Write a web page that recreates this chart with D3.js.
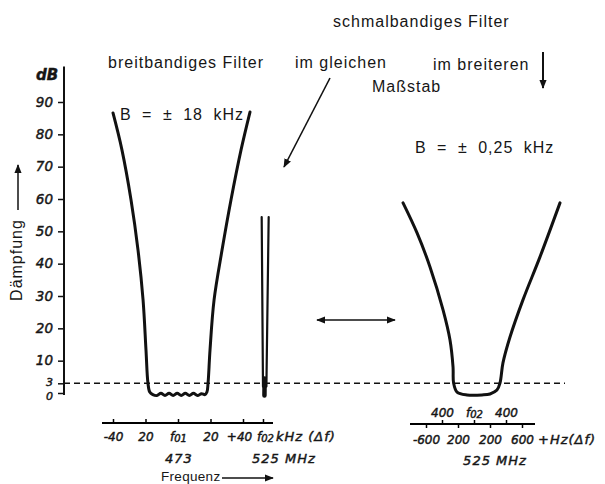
<!DOCTYPE html>
<html>
<head>
<meta charset="utf-8">
<script src="https://cdn.jsdelivr.net/npm/d3@7"></script>
<style>
  html, body { margin: 0; padding: 0; background: #fff; }
  svg { display: block; }
  .label { font-family: "Liberation Sans", Arial, sans-serif; font-size: 16px; letter-spacing: 1px; fill: #161616; }
  .num { font-family: "DejaVu Sans", sans-serif; font-style: italic; font-size: 13.5px; fill: #161616; stroke: #161616; stroke-width: 0.45px; }
  .xnum { font-size: 12px; }
  .unit { font-size: 13px; letter-spacing: 1px; }
</style>
</head>
<body>
<svg id="svg"></svg>
<script>
const width = 605;
const height = 484;

// Dämpfung axis (dB)
const dbTicks = [0, 3, 10, 20, 30, 40, 50, 60, 70, 80, 90];

// wide band filter around f01 = 473 MHz, offset in kHz
const wideDf = [-40, -34.5, -28.9, -24.6, -21.5, -19.7, -18.5, -17.4, -15.5,
    -13, -10.5, -8, -5.5, -3, -0.5, 2, 4.5, 7, 9.5, 12, 14.5, 16.6,
    17.8, 18.5, 19.7, 22.2, 27.1, 32.6, 38.8, 44.3];
const wideDb = [86.6, 75.2, 59.7, 44.2, 28.8, 13.3, 3.1, 0.3, -0.5,
    -0.8, -0.1, -0.8, -0.1, -0.8, -0.1, -0.8, -0.1, -0.8, -0.1, -0.8, -0.2, -0.5,
    0.3, 3.1, 13.3, 28.8, 44.2, 59.7, 75.2, 86.9];

// narrow band filter at f02 = 525 MHz, same scale (two flanks + joint)
const narrowLeftDf = [51.5, 52.3];
const narrowRightDf = [55.8, 54.4];
const narrowDb = [54.4, 2];
const narrowJointDf = [53.3, 53.2];
const narrowJointDb = [4.5, -0.8];

// narrow band filter in the wider scale, offset in Hz
const zoomDf = [-887, -712, -550, -387, -300, -262, -255, -212, -87, 100, 200, 287, 325, 362, 450, 612, 825, 1075];
const zoomDb = [58.8, 49.5, 39, 25.7, 16.4, 8, 3.1, 0.3, -0.6, -0.6, -0.3, 0.9, 3.1, 9.3, 17.3, 28.8, 42.1, 58.8];

// x axis ticks
const kHzTicks = [-40, -20, 0, 20, 40, 52.3];
const kHzLabels = ["-40", "20", "f01", "20", "+40", "f02"];
const hzUpperTicks = [-400, 0, 400];
const hzUpperLabels = ["400", "f02", "400"];
const hzLowerTicks = [-600, -200, 200, 600];
const hzLowerLabels = ["-600", "200", "200", "600"];

let svg = d3.select("#svg").attr("width", width).attr("height", height);

// scales
const y = d3.scaleLinear().domain([0, 90]).range([393, 102]);
const xKHz = d3.scaleLinear().domain([-40, 40]).range([113, 243]);
const xHz = d3.scaleLinear().domain([-600, 600]).range([426, 522]);

// arrow head
svg.append("defs").append("marker")
    .attr("id", "head")
    .attr("viewBox", "0 0 10 10")
    .attr("refX", 9).attr("refY", 5)
    .attr("markerWidth", 9).attr("markerHeight", 9)
    .attr("markerUnits", "userSpaceOnUse")
    .attr("orient", "auto-start-reverse")
    .append("path")
    .attr("d", "M0,1 L10,5 L0,9 Z")
    .attr("fill", "#111");

function fLabel(sel) {
    // turn "f01" into f + small index
    sel.each(function () {
        const t = d3.select(this);
        const s = t.text();
        if (s[0] === "f") {
            t.text("f");
            t.append("tspan").attr("font-size", "10px").attr("dy", "0.1em").text(s.slice(1));
        }
    });
}

function numText(sel, cls) {
    sel.attr("class", cls).attr("font-size", null).attr("font-family", null).attr("fill", null);
}

// y axis
const yAxis = svg.append("g")
    .attr("transform", "translate(64,0)")
    .call(d3.axisLeft(y).tickValues(dbTicks).tickSize(6).tickPadding(5));
yAxis.select(".domain").remove();
yAxis.selectAll("line").attr("stroke", "#111").attr("stroke-width", 1.5);
yAxis.selectAll("text").call(numText, "num");
yAxis.selectAll("text").filter(d => d <= 3)
    .style("font-size", "11px")
    .attr("dy", d => d === 0 ? "0.55em" : "0.2em");
svg.append("line")
    .attr("x1", 64).attr("x2", 64)
    .attr("y1", y(-0.6)).attr("y2", y(101))
    .attr("stroke", "#111").attr("stroke-width", 2);

svg.append("text").attr("class", "num").style("font-size", "15px").style("font-weight", "bold")
    .attr("x", 36).attr("y", 80).text("dB");

svg.append("text").attr("class", "label")
    .attr("transform", "translate(22,260) rotate(-90)")
    .attr("text-anchor", "middle")
    .text("Dämpfung");
svg.append("line")
    .attr("x1", 18).attr("x2", 18).attr("y1", 210).attr("y2", 165)
    .attr("stroke", "#111").attr("stroke-width", 1.5)
    .attr("marker-end", "url(#head)");

// 3 dB line
svg.append("line")
    .attr("x1", 64).attr("x2", 565)
    .attr("y1", y(3)).attr("y2", y(3))
    .attr("stroke", "#111").attr("stroke-width", 1.5)
    .attr("stroke-dasharray", "6,4");

// curves
const lineKHz = d3.line().x(d => xKHz(d[0])).y(d => y(d[1])).curve(d3.curveCatmullRom.alpha(0.5));
const lineHz = d3.line().x(d => xHz(d[0])).y(d => y(d[1])).curve(d3.curveCatmullRom.alpha(0.5));

svg.append("path")
    .attr("d", lineKHz(d3.zip(wideDf, wideDb)))
    .attr("fill", "none").attr("stroke", "#111").attr("stroke-width", 3)
    .attr("stroke-linecap", "round").attr("stroke-linejoin", "round");

[narrowLeftDf, narrowRightDf].forEach(df => {
    svg.append("path")
        .attr("d", lineKHz(d3.zip(df, narrowDb)))
        .attr("fill", "none").attr("stroke", "#111").attr("stroke-width", 2.2)
        .attr("stroke-linecap", "round");
});
svg.append("path")
    .attr("d", lineKHz(d3.zip(narrowJointDf, narrowJointDb)))
    .attr("fill", "none").attr("stroke", "#111").attr("stroke-width", 4.5)
    .attr("stroke-linecap", "round");

svg.append("path")
    .attr("d", lineHz(d3.zip(zoomDf, zoomDb)))
    .attr("fill", "none").attr("stroke", "#111").attr("stroke-width", 3)
    .attr("stroke-linecap", "round").attr("stroke-linejoin", "round");

// left frequency axis
const axisKHz = svg.append("g")
    .attr("transform", "translate(0,423)")
    .call(d3.axisBottom(xKHz).tickValues(kHzTicks).tickSize(-4).tickPadding(9)
        .tickFormat((d, i) => kHzLabels[i]));
axisKHz.select(".domain").attr("d", "M102,0H273").attr("stroke-width", 1.8);
axisKHz.selectAll("line").attr("stroke-width", 1.5);
axisKHz.selectAll("text").call(numText, "num xnum").call(fLabel);
axisKHz.selectAll("text").filter((d, i) => i === 4).attr("dx", -4);
axisKHz.selectAll("text").filter((d, i) => i === 5).attr("dx", 2);

svg.append("text").attr("class", "num unit").attr("x", 276).attr("y", 441).text("kHz (Δf)");
svg.append("text").attr("class", "num unit").attr("x", xKHz(0) + 1).attr("y", 463).attr("text-anchor", "middle").text("473");
svg.append("text").attr("class", "num unit").attr("x", 252).attr("y", 463).text("525 MHz");
svg.append("text").attr("class", "label").style("font-size", "13.5px").style("letter-spacing", "0.3px")
    .attr("x", 161).attr("y", 481).text("Frequenz");
svg.append("line")
    .attr("x1", 222).attr("x2", 273).attr("y1", 478).attr("y2", 478)
    .attr("stroke", "#111").attr("stroke-width", 1.5)
    .attr("marker-end", "url(#head)");

// right frequency axis (Hz)
const axisHzTop = svg.append("g")
    .attr("transform", "translate(0,424)")
    .call(d3.axisTop(xHz).tickValues(hzUpperTicks).tickSize(4).tickPadding(3)
        .tickFormat((d, i) => hzUpperLabels[i]));
axisHzTop.select(".domain").attr("d", "M410,0H535").attr("stroke-width", 1.8);
axisHzTop.selectAll("line").attr("stroke-width", 1.5);
axisHzTop.selectAll("text").call(numText, "num xnum").call(fLabel);

const axisHzBottom = svg.append("g")
    .attr("transform", "translate(0,424)")
    .call(d3.axisBottom(xHz).tickValues(hzLowerTicks).tickSize(4).tickPadding(7)
        .tickFormat((d, i) => hzLowerLabels[i]));
axisHzBottom.select(".domain").remove();
axisHzBottom.selectAll("line").attr("stroke-width", 1.5);
axisHzBottom.selectAll("text").call(numText, "num xnum");

svg.append("text").attr("class", "num unit").attr("x", 538).attr("y", 444).text("+Hz(Δf)");
svg.append("text").attr("class", "num unit").attr("x", 495).attr("y", 465).attr("text-anchor", "middle").text("525 MHz");

// annotations
svg.append("text").attr("class", "label").attr("x", 333).attr("y", 27).text("schmalbandiges Filter");
svg.append("text").attr("class", "label").attr("x", 108).attr("y", 68).text("breitbandiges Filter");
svg.append("text").attr("class", "label").attr("x", 295).attr("y", 68).text("im gleichen");
svg.append("text").attr("class", "label").attr("x", 433).attr("y", 70).text("im breiteren");
svg.append("text").attr("class", "label").attr("x", 372).attr("y", 92).text("Maßstab");
svg.append("text").attr("class", "label").style("word-spacing", "5px")
    .attr("x", 120).attr("y", 120).text("B = ± 18 kHz");
svg.append("text").attr("class", "label").style("word-spacing", "5px")
    .attr("x", 415).attr("y", 153).text("B = ± 0,25 kHz");

svg.append("line")
    .attr("x1", 543).attr("x2", 543).attr("y1", 52).attr("y2", 88)
    .attr("stroke", "#111").attr("stroke-width", 2)
    .attr("marker-end", "url(#head)");
svg.append("line")
    .attr("x1", 330).attr("x2", 284).attr("y1", 78).attr("y2", 167)
    .attr("stroke", "#111").attr("stroke-width", 1.6)
    .attr("marker-end", "url(#head)");
svg.append("line")
    .attr("x1", 317).attr("x2", 395).attr("y1", 320).attr("y2", 320)
    .attr("stroke", "#111").attr("stroke-width", 1.5)
    .attr("marker-start", "url(#head)")
    .attr("marker-end", "url(#head)");
</script>
</body>
</html>
